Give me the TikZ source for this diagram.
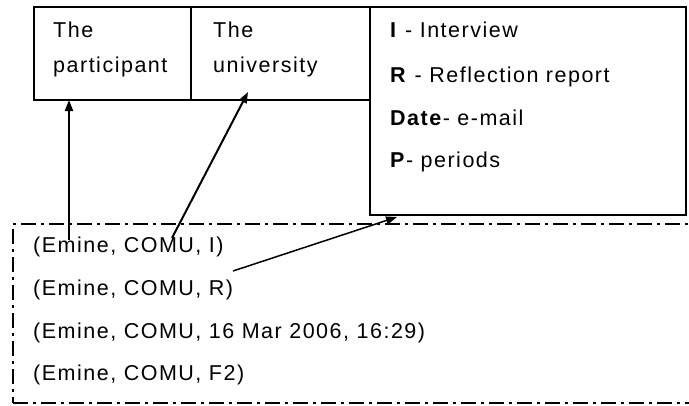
\documentclass[tikz,border=0pt]{standalone}
\usepackage{fontspec}
\setmainfont{Liberation Sans}[LetterSpace=7]
\usetikzlibrary{arrows.meta}
\begin{document}
\begin{tikzpicture}[x=1pt,y=-1pt,
  lbl/.style={anchor=base west, inner sep=0pt, font=\fontsize{21.5}{26}\selectfont},
  boxarea/.style={inner sep=0pt, outer sep=0pt, anchor=north west},
  heavy/.style={line width=2.6pt, line cap=rect, line join=miter},
  light/.style={line width=1.3pt},
  conn/.style={line width=2pt, -{Triangle[length=11pt,width=8pt]}},
  dashdot/.style={line width=2pt, dash pattern=on 15pt off 5pt on 3pt off 5pt}
]
\useasboundingbox (0,0) rectangle (689,405);

% header cells and the legend
\node[boxarea, minimum width=157pt, minimum height=93pt] (part) at (34,7) {};
\node[boxarea, minimum width=179pt, minimum height=93pt] (univ) at (191,7) {};
\node[boxarea, minimum width=316pt, minimum height=208pt] (legend) at (370,7) {};

\draw[light] (part.north west) -- (part.south west);
\draw[light] (part.north east) -- (part.south east);
\draw[light] (univ.north east) -- (univ.south east);
\draw[heavy] (part.north west) -- (legend.north west);
\draw[heavy] (part.south west) -- (univ.south east);
\draw[heavy] (univ.south east) -- (legend.south west) -- (legend.south east)
  -- (legend.north east) -- (legend.north west);

\node[lbl] (partA) at (53,37) {The};
\node[lbl] (partB) at (53,72) {participant};
\node[lbl] (univA) at (213,37) {The};
\node[lbl] (univB) at (213,72) {university};

\node[lbl] (legI) at (390,37) {\textbf{I} - Interview};
\node[lbl] (legR) at (390,82) {\textbf{R} - Reflection report};
\node[lbl] (legD) at (390,125) {\textbf{Date}- e-mail};
\node[lbl] (legP) at (390,167) {\textbf{P}- periods};

% the coded records
\node[boxarea, draw, dashdot, minimum width=692pt, minimum height=179pt] (codes) at (13,224) {};
\node[lbl] (r1) at (33,252) {(Emine, COMU, I)};
\node[lbl] (r2) at (33,295) {(Emine, COMU, R)};
\node[lbl] (r3) at (33,338) {(Emine, COMU, 16 Mar 2006, 16:29)};
\node[lbl] (r4) at (33,380) {(Emine, COMU, F2)};

% links from the first record to the header fields
\coordinate (s1) at (69,240);
\coordinate (s2) at (172,238);
\coordinate (t2) at (248,92);
\coordinate (s3) at (233,271);
\coordinate (t3) at (397,217);
\draw[conn] (s1) -- (s1 |- part.south);
\draw[conn] (s2) -- (t2);
\draw[conn, line width=1.5pt] (s3) -- (t3);
\end{tikzpicture}
\end{document}
